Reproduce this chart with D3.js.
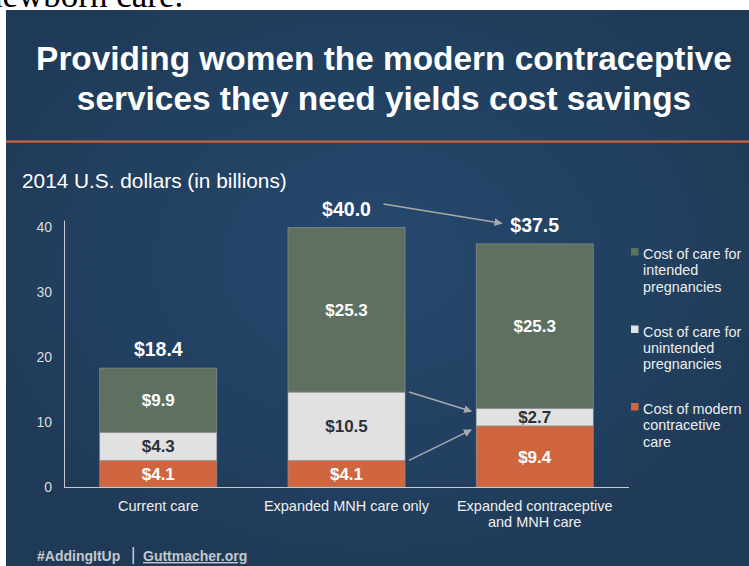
<!DOCTYPE html>
<html>
<head>
<meta charset="utf-8">
<script src="https://cdn.jsdelivr.net/npm/d3@7"></script>
<style>
  html, body { margin: 0; padding: 0; background: #fff; }
  svg { display: block; font-family: "Liberation Sans", Arial, sans-serif; }
</style>
</head>
<body>
<script>
// chart values
const categoryLines = [["Current care"], ["Expanded MNH care only"], ["Expanded contraceptive", "and MNH care"]];
const categories = categoryLines.map(l => l.join(" "));
const contraceptive = [4.1, 4.1, 9.4];
const unintended = [4.3, 10.5, 2.7];
const intended = [9.9, 25.3, 25.3];
const totals = [18.4, 40.0, 37.5];
const yTicks = [0, 10, 20, 30, 40];
const seriesKeys = ["contraceptive", "unintended", "intended"];
const legendLines = [
  ["Cost of care for", "intended", "pregnancies"],
  ["Cost of care for", "unintended", "pregnancies"],
  ["Cost of modern", "contracetive", "care"]
];
const legendKeys = ["intended", "unintended", "contraceptive"];

const colors = { contraceptive: "#cf6640", unintended: "#e1e1e1", intended: "#5e7161" };
const labelColors = { contraceptive: "#ffffff", unintended: "#2b323b", intended: "#ffffff" };

const W = 749, H = 566;
const svg = d3.select("body").append("svg").attr("width", W).attr("height", H);

// slide background
const defs = svg.append("defs");
const grad = defs.append("radialGradient").attr("id", "bg")
  .attr("cx", "50%").attr("cy", "45%").attr("r", "60%");
grad.append("stop").attr("offset", "0%").attr("stop-color", "#26496e");
grad.append("stop").attr("offset", "100%").attr("stop-color", "#1f3a57");

defs.append("marker").attr("id", "head")
  .attr("viewBox", "0 0 10 10").attr("refX", 9).attr("refY", 5)
  .attr("markerWidth", 5).attr("markerHeight", 5).attr("orient", "auto")
  .append("path").attr("d", "M0,0 L10,5 L0,10 z").attr("fill", "#a9a9a9");

// page text cut off above the slide
svg.append("text").attr("x", -15).attr("y", 7)
  .attr("font-family", "Liberation Serif, serif").attr("font-size", 35).attr("fill", "#000")
  .text("newborn care.");

svg.append("rect").attr("x", 6).attr("y", 10).attr("width", W - 6).attr("height", H - 10)
  .attr("fill", "url(#bg)");

// title
const title = svg.append("text").attr("text-anchor", "middle").attr("fill", "#fff")
  .attr("font-weight", "bold").attr("font-size", 33.4);
title.append("tspan").attr("x", 384).attr("y", 70).text("Providing women the modern contraceptive");
title.append("tspan").attr("x", 384).attr("y", 110).text("services they need yields cost savings");

svg.append("rect").attr("x", 6).attr("y", 140.5).attr("width", W - 6).attr("height", 2.2)
  .attr("fill", "#cc633c");

svg.append("text").attr("x", 22).attr("y", 188).attr("fill", "#fff").attr("font-size", 20.8)
  .text("2014 U.S. dollars (in billions)");

// scales
const x = d3.scaleBand().domain(categories).range([64, 629]).paddingInner(0.378).paddingOuter(0.19);
const y = d3.scaleLinear().domain([0, 40]).range([487, 227]);

// y axis
const yAxis = svg.append("g").attr("transform", "translate(64,0)")
  .call(d3.axisLeft(y).tickValues(yTicks).tickSize(0).tickPadding(12));
yAxis.select(".domain").remove();
yAxis.selectAll("text").attr("fill", "#dcdcdc").attr("font-size", 14)
  .attr("font-family", "Liberation Sans, Arial, sans-serif");
svg.append("line").attr("x1", 64.5).attr("x2", 64.5).attr("y1", y(41)).attr("y2", y(0))
  .attr("stroke", "#c9c9c9").attr("stroke-width", 1);

// stacked bars
const rows = categories.map((c, i) => ({
  cat: c, contraceptive: contraceptive[i], unintended: unintended[i], intended: intended[i]
}));
const stacked = d3.stack().keys(seriesKeys)(rows);

const layer = svg.selectAll("g.layer").data(stacked).enter().append("g").attr("class", "layer");
layer.selectAll("rect").data(s => s.map(d => ({ key: s.key, d })))
  .enter().append("rect")
  .attr("x", p => x(p.d.data.cat))
  .attr("width", x.bandwidth())
  .attr("y", p => y(p.d[1]))
  .attr("height", p => y(p.d[0]) - y(p.d[1]))
  .attr("fill", p => colors[p.key])
  .attr("stroke", "#8f969b").attr("stroke-width", 0.6);

layer.selectAll("text").data(s => s.map(d => ({ key: s.key, d })))
  .enter().append("text")
  .attr("x", p => x(p.d.data.cat) + x.bandwidth() / 2)
  .attr("y", p => (y(p.d[0]) + y(p.d[1])) / 2)
  .attr("dy", "0.36em")
  .attr("text-anchor", "middle").attr("font-weight", "bold").attr("font-size", 17)
  .attr("fill", p => labelColors[p.key])
  .text(p => "$" + (p.d[1] - p.d[0]).toFixed(1));

// baseline
svg.append("line").attr("x1", 64).attr("x2", 629).attr("y1", y(0) + 0.5).attr("y2", y(0) + 0.5)
  .attr("stroke", "#c9c9c9").attr("stroke-width", 1);

// totals
svg.selectAll("text.total").data(totals).enter().append("text").attr("class", "total")
  .attr("x", (d, i) => x(categories[i]) + x.bandwidth() / 2)
  .attr("y", (d, i) => y(d) - 11)
  .attr("text-anchor", "middle").attr("font-weight", "bold").attr("font-size", 19.5)
  .attr("fill", "#fff")
  .text(d => "$" + d.toFixed(1));

// category labels
svg.selectAll("text.cat").data(categoryLines).enter().append("text").attr("class", "cat")
  .attr("text-anchor", "middle").attr("fill", "#eeeeee").attr("font-size", 14.5)
  .each(function (lines, i) {
    d3.select(this).selectAll("tspan").data(lines).enter().append("tspan")
      .attr("x", x(categories[i]) + x.bandwidth() / 2)
      .attr("y", (l, j) => y(0) + 24 + j * 16)
      .text(l => l);
  });

// arrows between scenarios
const c1 = x(categories[1]), c2 = x(categories[2]), bw = x.bandwidth();
const arrows = [
  [c1 + bw / 2 + 37, y(totals[1]) - 23, c2 + bw / 2 - 33, y(totals[2]) - 20],
  [c1 + bw + 4, y(contraceptive[1] + unintended[1]), c2 - 5, y(contraceptive[2] + unintended[2]) + 3],
  [c1 + bw + 4, y(contraceptive[1]), c2 - 5, y(contraceptive[2]) + 4]
];
svg.selectAll("line.arrow").data(arrows).enter().append("line").attr("class", "arrow")
  .attr("x1", d => d[0]).attr("y1", d => d[1]).attr("x2", d => d[2]).attr("y2", d => d[3])
  .attr("stroke", "#a9a9a9").attr("stroke-width", 1.6).attr("marker-end", "url(#head)");

// legend
const legend = svg.selectAll("g.legend").data(legendKeys).enter().append("g").attr("class", "legend")
  .attr("transform", (d, i) => `translate(631,${248 + i * 77.5})`);
legend.append("rect").attr("width", 7.5).attr("height", 7.5).attr("fill", d => colors[d]);
legend.append("text").attr("fill", "#eeeeee").attr("font-size", 14.4)
  .each(function (k, i) {
    d3.select(this).selectAll("tspan").data(legendLines[i]).enter().append("tspan")
      .attr("x", 12).attr("y", (l, j) => 11 + j * 16.3).text(l => l);
  });

// footer
const foot = svg.append("g").attr("font-weight", "bold").attr("font-size", 14).attr("fill", "#c4c7cb");
foot.append("text").attr("x", 37).attr("y", 561).text("#AddingItUp");
foot.append("rect").attr("x", 132.5).attr("y", 547).attr("width", 1.6).attr("height", 17);
foot.append("text").attr("x", 143).attr("y", 561).attr("text-decoration", "underline").text("Guttmacher.org");
</script>
</body>
</html>
